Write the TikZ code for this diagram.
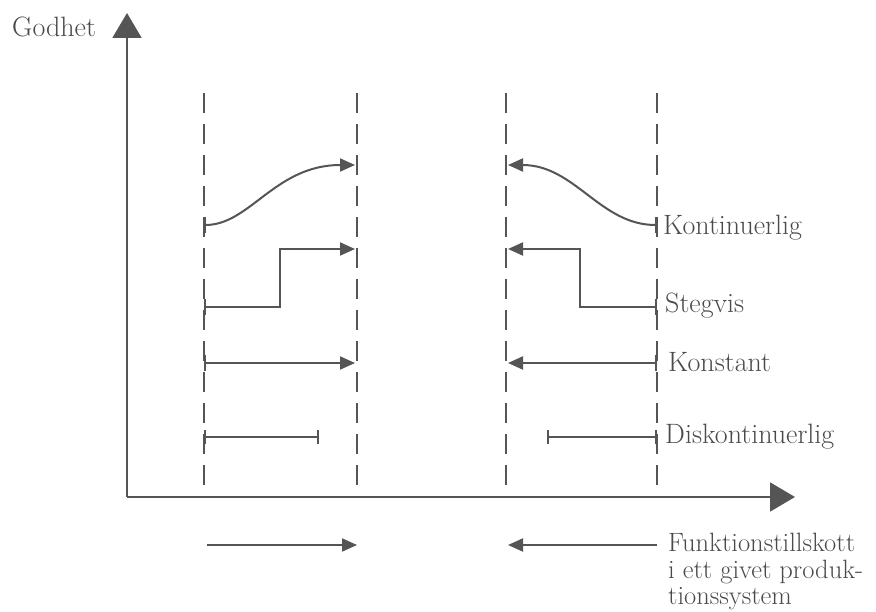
\documentclass[tikz,border=0pt]{standalone}
\usepackage{fontspec}
\usetikzlibrary{arrows.meta}
\definecolor{ink}{HTML}{555555}
\definecolor{txt}{HTML}{4A4A4A}
\begin{document}
\begin{tikzpicture}[x=1pt,y=-1pt,
  axis/.style={draw=ink,line width=2pt,-{Triangle[length=25pt,width=29pt]}},
  guide/.style={draw=ink,line width=1.6pt,dash pattern=on 20pt off 11pt},
  flow/.style={draw=ink,line width=2pt,{Bar[width=16pt]}-{Triangle[length=15pt,width=13pt]}},
  disk/.style={draw=ink,line width=2pt,{Bar[width=14pt]}-{Bar[width=14pt]}},
  lab/.style={anchor=base west,inner sep=0pt,text=txt,font=\fontsize{28}{29}\selectfont},
  blab/.style={anchor=base west,inner sep=0pt,text=txt,font=\fontsize{26.5}{27}\selectfont},
  bot/.style={draw=ink,line width=2pt,-{Triangle[length=15pt,width=13pt]}}]
\useasboundingbox (0,0) rectangle (876,612);
% axes
\coordinate (O) at (127,497);
\coordinate (Ytip) at (127,13);
\coordinate (Xtip) at (795,497);
\draw[axis] (O) -- (Ytip);
\draw[axis] (O) -- (Xtip);
\node[lab] (godhet) at (12,37) {Godhet};
% dashed guides
\foreach \n/\x in {d1/204,d2/357,d3/506,d4/657}{
  \coordinate (\n t) at (\x,93);
  \coordinate (\n b) at (\x,497);
  \draw[guide] (\n t) -- (\n b);
}
% Kontinuerlig
\coordinate (kl1) at (204,225);
\coordinate (kl2) at (355,165);
\draw[flow] (kl1) .. controls (250,225) and (275,165) .. (kl2);
\coordinate (kr1) at (657,225);
\coordinate (kr2) at (508,165);
\draw[flow] (kr1) .. controls (600,225) and (575,165) .. (kr2);
% Stegvis
\coordinate (sl1) at (204,307);
\coordinate (sl2) at (355,249);
\draw[flow] (sl1) -- (280,307) -- (280,249) -- (sl2);
\coordinate (sr1) at (657,307);
\coordinate (sr2) at (508,249);
\draw[flow] (sr1) -- (580,307) -- (580,249) -- (sr2);
% Konstant
\coordinate (cl1) at (204,363);
\coordinate (cl2) at (355,363);
\draw[flow] (cl1) -- (cl2);
\coordinate (cr1) at (657,363);
\coordinate (cr2) at (508,363);
\draw[flow] (cr1) -- (cr2);
% Diskontinuerlig
\coordinate (dl1) at (204,437);
\coordinate (dl2) at (319,437);
\draw[disk] (dl1) -- (dl2);
\coordinate (dr1) at (547,437);
\coordinate (dr2) at (657,437);
\draw[disk] (dr1) -- (dr2);
% labels
\node[lab] (kont) at (663,235) {Kontinuerlig};
\node[lab] (steg) at (665,313) {Stegvis};
\node[lab] (kons) at (668,372) {Konstant};
\node[lab] (disklab) at (665,443) {Diskontinuerlig};
% bottom arrows
\coordinate (bl1) at (207,545);
\coordinate (bl2) at (357,545);
\draw[bot] (bl1) -- (bl2);
\coordinate (br1) at (657,545);
\coordinate (br2) at (508,545);
\draw[bot] (br1) -- (br2);
\node[blab] (f1) at (668,551) {Funktionstillskott};
\node[blab] (f2) at (668,578) {i ett givet produk-};
\node[blab] (f3) at (668,604) {tionssystem};
\end{tikzpicture}
\end{document}
